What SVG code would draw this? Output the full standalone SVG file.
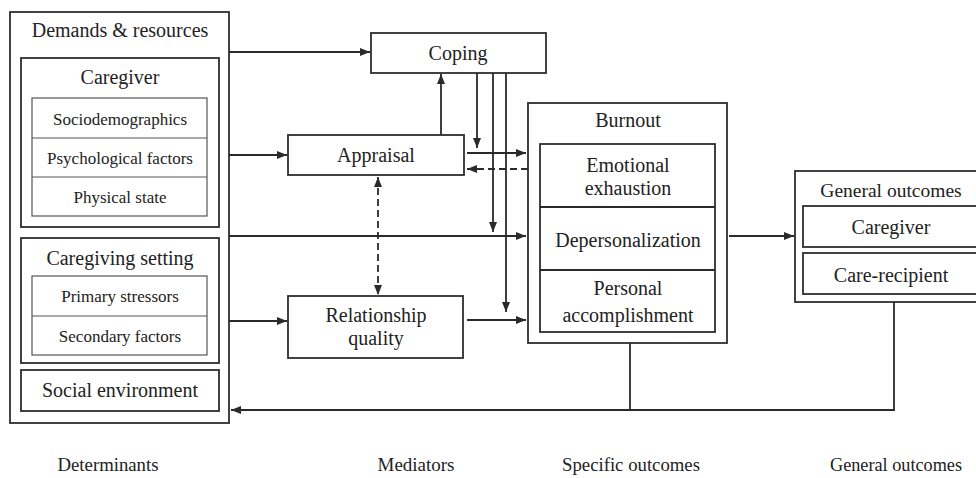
<svg xmlns="http://www.w3.org/2000/svg" width="976" height="478" viewBox="0 0 976 478">
<style>
  .box{fill:#fff;stroke:#2e2e2e;stroke-width:1.8}
  .thin{fill:#fff;stroke:#555;stroke-width:1.2}
  .ln{fill:none;stroke:#2a2a2a;stroke-width:1.8}
  .dash{fill:none;stroke:#2a2a2a;stroke-width:1.8;stroke-dasharray:7 4}
  text{font-family:"Liberation Serif","Times New Roman",serif;fill:#222;text-anchor:middle}
  .h{font-size:20px}
  .s{font-size:17px}
  .g{font-size:19.5px}
  .b{font-size:19px}
</style>
<defs>
  <marker id="ah" viewBox="0 0 10 8" refX="10" refY="4" markerWidth="10" markerHeight="8" markerUnits="userSpaceOnUse" orient="auto-start-reverse">
    <path d="M0,0 L10,4 L0,8 Z" fill="#2a2a2a"/>
  </marker>
</defs>

<g id="determinants">
  <rect class="box" x="10" y="12" width="219" height="411"/>
  <text class="h" x="120" y="37">Demands &amp; resources</text>
  <g id="caregiver">
    <rect class="box" x="21" y="58" width="198" height="169"/>
    <text class="h" x="120" y="84">Caregiver</text>
    <rect class="thin" x="32" y="98" width="175" height="118"/>
    <line class="thin" x1="32" y1="138" x2="207" y2="138"/>
    <line class="thin" x1="32" y1="177" x2="207" y2="177"/>
    <text class="s" x="120" y="125">Sociodemographics</text>
    <text class="s" x="120" y="164">Psychological factors</text>
    <text class="s" x="120" y="203">Physical state</text>
  </g>
  <g id="caregiving-setting">
    <rect class="box" x="21" y="238" width="198" height="125"/>
    <text class="h" x="120" y="265">Caregiving setting</text>
    <rect class="thin" x="32" y="276" width="175" height="79"/>
    <line class="thin" x1="32" y1="316" x2="207" y2="316"/>
    <text class="s" x="120" y="302">Primary stressors</text>
    <text class="s" x="120" y="342">Secondary factors</text>
  </g>
  <g id="social-environment">
    <rect class="box" x="21" y="370" width="198" height="41"/>
    <text class="h" x="120" y="397">Social environment</text>
  </g>
</g>

<g id="coping">
  <rect class="box" x="371" y="33" width="175" height="40"/>
  <text class="h" x="458" y="60">Coping</text>
</g>

<g id="appraisal">
  <rect class="box" x="288" y="135" width="176" height="40"/>
  <text class="h" x="376" y="162">Appraisal</text>
</g>

<g id="relationship-quality">
  <rect class="box" x="288" y="296" width="175" height="62"/>
  <text class="h" x="376" y="322">Relationship</text>
  <text class="h" x="376" y="345">quality</text>
</g>

<g id="burnout">
  <rect class="box" x="528" y="103" width="199" height="240"/>
  <text class="h" x="628" y="127">Burnout</text>
  <rect class="box" x="540" y="144" width="175" height="188"/>
  <line class="ln" x1="540" y1="207" x2="715" y2="207"/>
  <line class="ln" x1="540" y1="270" x2="715" y2="270"/>
  <text class="h" x="628" y="172">Emotional</text>
  <text class="h" x="628" y="195">exhaustion</text>
  <text class="h" x="628" y="247">Depersonalization</text>
  <text class="h" x="628" y="295">Personal</text>
  <text class="h" x="628" y="322">accomplishment</text>
</g>

<g id="general-outcomes">
  <rect class="box" x="795" y="171" width="195" height="131"/>
  <text class="g" x="891" y="197">General outcomes</text>
  <rect class="box" x="803" y="206" width="180" height="41"/>
  <text class="h" x="891" y="234">Caregiver</text>
  <rect class="box" x="803" y="253" width="180" height="41"/>
  <text class="h" x="891" y="282">Care-recipient</text>
</g>

<g id="connectors">
  <line class="ln" x1="229" y1="52" x2="370" y2="52" marker-end="url(#ah)"/>
  <line class="ln" x1="229" y1="155" x2="287" y2="155" marker-end="url(#ah)"/>
  <line class="ln" x1="229" y1="236" x2="526" y2="236" marker-end="url(#ah)"/>
  <line class="ln" x1="229" y1="321" x2="287" y2="321" marker-end="url(#ah)"/>
  <line class="ln" x1="441" y1="135" x2="441" y2="74" marker-end="url(#ah)"/>
  <line class="ln" x1="477" y1="73" x2="477" y2="148" marker-end="url(#ah)"/>
  <line class="ln" x1="493" y1="73" x2="493" y2="232" marker-end="url(#ah)"/>
  <line class="ln" x1="506" y1="73" x2="506" y2="312" marker-end="url(#ah)"/>
  <line class="ln" x1="467" y1="153" x2="526" y2="153" marker-end="url(#ah)"/>
  <line class="dash" x1="528" y1="169" x2="467" y2="169" marker-end="url(#ah)"/>
  <line class="dash" x1="378" y1="177" x2="378" y2="295" marker-start="url(#ah)" marker-end="url(#ah)"/>
  <line class="ln" x1="467" y1="320" x2="526" y2="320" marker-end="url(#ah)"/>
  <line class="ln" x1="729" y1="236" x2="794" y2="236" marker-end="url(#ah)"/>
  <line class="ln" x1="630" y1="343" x2="630" y2="410"/>
  <polyline class="ln" points="894,302 894,410 231,410" marker-end="url(#ah)"/>
</g>

<g id="column-labels">
  <text class="b" x="108" y="471" textLength="101" lengthAdjust="spacingAndGlyphs">Determinants</text>
  <text class="b" x="416" y="471" textLength="77" lengthAdjust="spacingAndGlyphs">Mediators</text>
  <text class="b" x="631" y="471" textLength="138" lengthAdjust="spacingAndGlyphs">Specific outcomes</text>
  <text class="b" x="896" y="471" textLength="132" lengthAdjust="spacingAndGlyphs">General outcomes</text>
</g>
</svg>
